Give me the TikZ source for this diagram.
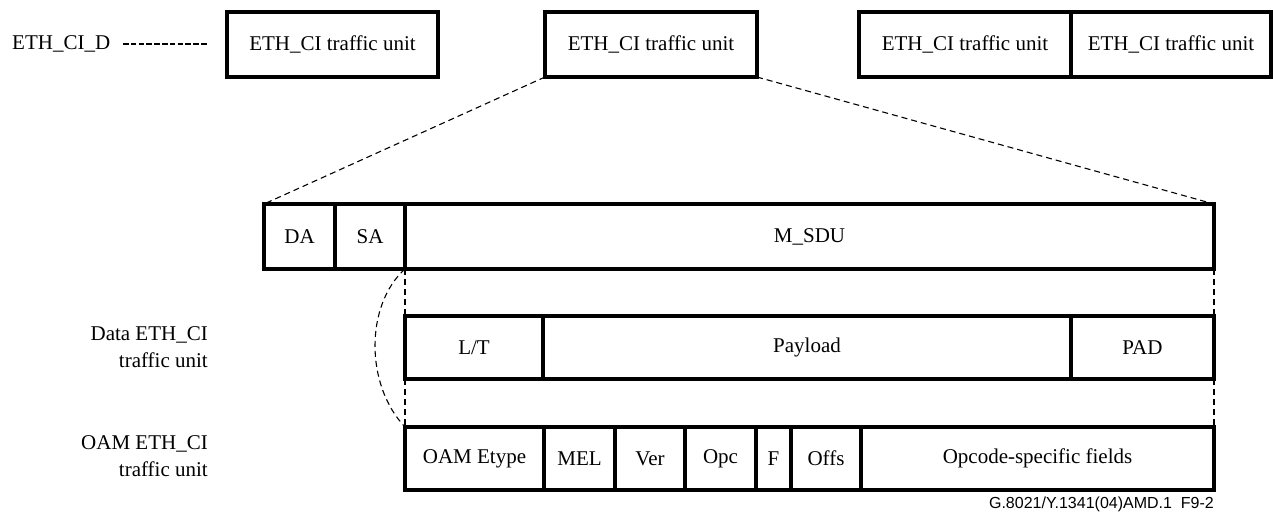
\documentclass[tikz,border=0pt]{standalone}
\usepackage{fontspec}
\setmainfont{Liberation Serif}
\newfontfamily\footfont{Liberation Sans}
\begin{document}
\begin{tikzpicture}[x=1pt,y=-1pt,
  fld/.style={draw, line width=3.2pt, inner sep=0pt, outer sep=0pt, font=\fontsize{21}{25}\selectfont},
  topbox/.style={fld, minimum height=65pt},
  rowa/.style={fld, minimum height=65pt},
  rowb/.style={fld, minimum height=63pt},
  zoomline/.style={dashed, line width=1.1pt, dash pattern=on 6pt off 4pt},
  lbl/.style={font=\fontsize{21}{27}\selectfont, align=right, inner sep=0pt}
]
\useasboundingbox (0,0) rectangle (1273,512);
% top row
\node[lbl, anchor=west] (ethcid) at (12,44) {ETH\_CI\_D};
\coordinate (d1) at (123,44);
\coordinate (d2) at (208,44);
\draw[line width=2pt, dash pattern=on 5.5pt off 2.3pt] (d1) -- (d2);
\node[topbox, minimum width=211pt] (u1) at (332.5,44.5) {ETH\_CI traffic unit};
\node[topbox, minimum width=212pt] (u2) at (651,44.5) {ETH\_CI traffic unit};
\node[topbox, minimum width=212pt] (u3) at (965,44.5) {ETH\_CI traffic unit};
\node[topbox, minimum width=200pt] (u4) at (1171,44.5) {ETH\_CI traffic unit};
% row 1
\node[rowa, minimum width=71pt] (da) at (299.5,236.5) {DA};
\node[rowa, minimum width=70pt] (sa) at (370,236.5) {SA};
\node[rowa, minimum width=809pt] (msdu) at (809.5,236.5) {M\_SDU};
% row 2
\node[rowb, minimum width=138pt] (lt) at (474,347.5) {L/T};
\node[rowb, minimum width=528pt] (pay) at (807,347.5) {Payload};
\node[rowb, minimum width=143pt] (pad) at (1142.5,347.5) {PAD};
% row 3
\node[rowb, minimum width=139pt] (oam) at (474.5,458.5) {OAM Etype};
\node[rowb, minimum width=71pt] (mel) at (579.5,458.5) {MEL};
\node[rowb, minimum width=70pt] (ver) at (650,458.5) {Ver};
\node[rowb, minimum width=71pt] (opc) at (720.5,458.5) {Opc};
\node[rowb, minimum width=35pt] (f) at (773.5,458.5) {F};
\node[rowb, minimum width=70pt] (offs) at (826,458.5) {Offs};
\node[rowb, minimum width=353pt] (opcode) at (1037.5,458.5) {Opcode-specific fields};
% labels
\node[lbl, anchor=east] (ldata) at (208,347) {Data ETH\_CI\\traffic unit};
\node[lbl, anchor=east] (loam) at (208,456) {OAM ETH\_CI\\traffic unit};
% zoom lines
\draw[zoomline] (u2.south west) -- (da.north west);
\draw[zoomline] (u2.south east) -- (msdu.north east);
\draw[zoomline] (msdu.south west) -- (lt.north west);
\draw[zoomline] (lt.south west) -- (oam.north west);
\draw[zoomline] (msdu.south east) -- (pad.north east);
\draw[zoomline] (pad.south east) -- (opcode.north east);
\draw[zoomline] (msdu.south west) .. controls (365,305) and (365,385) .. (oam.north west);
% footer
\node[font=\footfont\fontsize{16}{18}\selectfont, anchor=base east, inner sep=0pt] (foot) at (1214,508) {G.8021/Y.1341(04)AMD.1\ \ F9-2};
\end{tikzpicture}
\end{document}
